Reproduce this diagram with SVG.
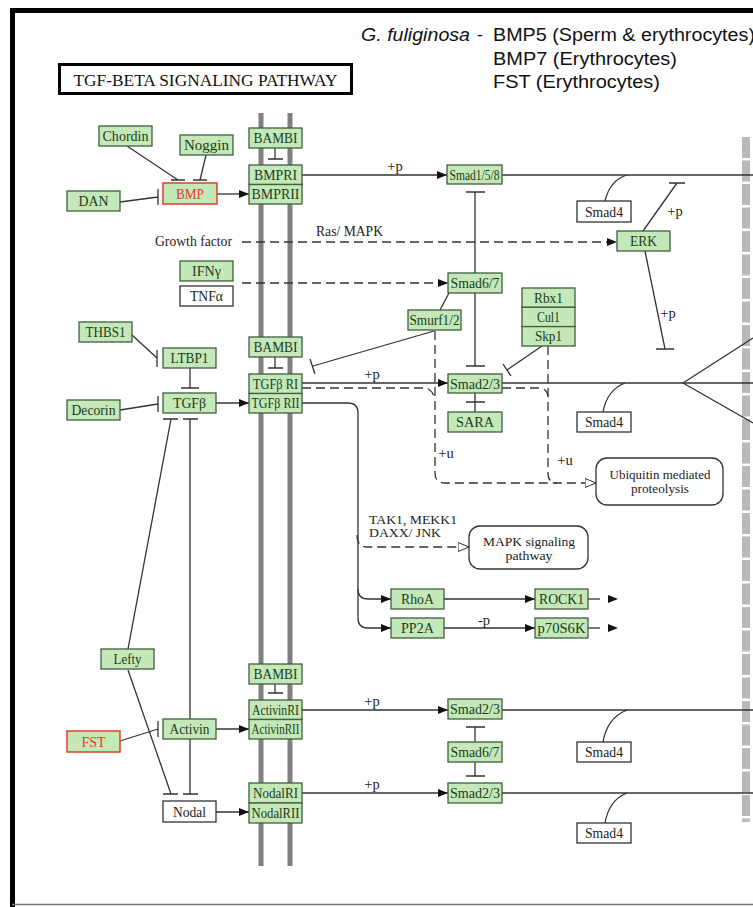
<svg xmlns="http://www.w3.org/2000/svg" width="753" height="907" viewBox="0 0 753 907">
<style>
.n rect{fill:#c4e8b8;stroke:#3f5f3f;stroke-width:1.3}
.w rect{fill:#fff;stroke:#333;stroke-width:1.3}
.r rect{fill:#c4e8b8;stroke:#e0402a;stroke-width:1.5}
.n text,.w text,.r text,.lbl{font-family:"Liberation Serif","Times New Roman",serif;font-size:14.5px;text-anchor:middle}
.n text{fill:#1b3d1b}
.w text{fill:#222}
.r text{fill:#e0402a}
.lbl{fill:#222}
.lt{text-anchor:start}
.w text.sm{font-size:12.5px}
.lbl .xs{font-size:11.5px}
.c path{fill:none;stroke:#333;stroke-width:1.3}
.c .d{stroke-dasharray:9 5}
.hdr{font-family:"Liberation Sans",Arial,sans-serif;font-size:17.5px;fill:#111}
.rr{fill:#fff;stroke:#333;stroke-width:1.3}
</style>
<defs>
<marker id="a" markerUnits="userSpaceOnUse" markerWidth="11" markerHeight="9" refX="10" refY="4" orient="auto"><path d="M0,0 L10,4 L0,8 z" fill="#111"/></marker>
<marker id="o" markerUnits="userSpaceOnUse" markerWidth="13" markerHeight="11" refX="11.5" refY="5" orient="auto"><path d="M0.5,0.5 L11.5,5 L0.5,9.5 z" fill="#fff" stroke="#333" stroke-width="1"/></marker>
</defs>
<rect width="753" height="907" fill="#fff"/>
<!-- frame -->
<path d="M12.5,8 V907" stroke="#000" stroke-width="5"/>
<path d="M10,10.5 H753" stroke="#000" stroke-width="5"/>
<path d="M12,904.5 H753" stroke="#777" stroke-width="1.5"/>
<!-- title -->
<g id="title">
<rect x="59.5" y="64.5" width="292" height="29" fill="#fff" stroke="#000" stroke-width="3"/>
<text x="205.5" y="86" font-family="Liberation Serif,'Times New Roman',serif" font-size="17" text-anchor="middle" textLength="264" lengthAdjust="spacingAndGlyphs" fill="#111">TGF-BETA SIGNALING PATHWAY</text>
</g>
<g id="header" class="hdr">
<text x="361" y="41" font-style="italic" textLength="109" lengthAdjust="spacingAndGlyphs">G. fuliginosa</text>
<text x="477" y="41">-</text>
<text x="493" y="41" textLength="262" lengthAdjust="spacingAndGlyphs">BMP5 (Sperm &amp; erythrocytes)</text>
<text x="493" y="65" textLength="184" lengthAdjust="spacingAndGlyphs">BMP7 (Erythrocytes)</text>
<text x="493" y="88" textLength="167" lengthAdjust="spacingAndGlyphs">FST (Erythrocytes)</text>
</g>
<!-- membrane -->
<g id="membrane">
<path d="M261,113 V866 M290,113 V866" stroke="#808080" stroke-width="5"/>
</g>
<!-- nucleus border -->
<g id="nucleus">
<path d="M746,137 V822" stroke="#b8b8b8" stroke-width="8" stroke-dasharray="21 2.5"/>
</g>
<!-- connectors -->
<g id="connectors" class="c">
<path d="M217,194 H249" marker-end="url(#a)"/>
<path d="M127,146 L178,180 M171,180 H185"/>
<path d="M206,155 L200,180 M193,180 H207"/>
<path d="M120,202 L158,197 M158,189 V205"/>
<path d="M275,148 V159 M268,159 H283"/>
<path d="M302,175 H447" marker-end="url(#a)"/>
<path d="M502,175 H753"/>
<path d="M605,201 Q610,180 627,175"/>
<path d="M475,273 V192 M466,192 H485"/>
<path class="d" d="M242,242 H617" marker-end="url(#a)"/>
<path class="d" d="M242,283 H448" marker-end="url(#a)"/>
<path d="M643,231 L677,183 M669,183 H685"/>
<path d="M645,251 L665,349 M656,349 H674"/>
<path d="M440,310 L449,293"/>
<path d="M434,331 L313,366 M310,359 L315,374"/>
<path d="M542,346 L507,370 M503,364 L511,376"/>
<path d="M475,293 V366 M466,366 H485"/>
<path d="M302,383 H448" marker-end="url(#a)"/>
<path d="M502,383 H753"/>
<path d="M603,412 Q607,390 625,383"/>
<path d="M683,383 L753,338 M683,383 L753,423"/>
<path d="M475,412 V393 M466,402 H485"/>
<path class="d" d="M302,388 H426 Q433,390 435,400"/>
<path class="d" d="M435,331 V473 Q435,483 445,483 H596" marker-end="url(#o)"/>
<path class="d" d="M502,388 H541 Q548,390 548,398"/>
<path class="d" d="M548,346 V473 Q548,483 557,483"/>
<path class="d" d="M357,535 Q357,547 367,547 H469" marker-end="url(#o)"/>
<path d="M302,403 H348 Q358,403 358,413 V618 Q358,628 368,628 H391" marker-end="url(#a)"/>
<path d="M358,589 Q358,599 368,599 H391" marker-end="url(#a)"/>
<path d="M444,599 H535" marker-end="url(#a)"/>
<path d="M444,628 H535" marker-end="url(#a)"/>
<path d="M588,599 H618" stroke-dasharray="12 30" marker-end="url(#a)"/>
<path d="M588,628 H618" stroke-dasharray="12 30" marker-end="url(#a)"/>
<path d="M132,335 L157,358 M157,350 V367"/>
<path d="M275,357 V368 M268,368 H283"/>
<path d="M190,368 V388 M181,388 H199"/>
<path d="M120,410 L158,404 M158,396 V412"/>
<path d="M216,403 H249" marker-end="url(#a)"/>
<path d="M128,649 L171,419 M163,419 H178"/>
<path d="M190,719 V419 M183,419 H198"/>
<path d="M128,670 L171,794 M163,794 H178"/>
<path d="M190,739 V794 M183,794 H198"/>
<path d="M120,741 L158,729 M158,721 V737"/>
<path d="M216,729 H249" marker-end="url(#a)"/>
<path d="M216,812 H249" marker-end="url(#a)"/>
<path d="M275,684 V693 M268,693 H283"/>
<path d="M302,710 H448" marker-end="url(#a)"/>
<path d="M502,710 H753"/>
<path d="M475,742 V727 M466,727 H485"/>
<path d="M475,762 V776 M466,776 H485"/>
<path d="M302,793 H448" marker-end="url(#a)"/>
<path d="M502,793 H753"/>
<path d="M603,742 Q607,718 627,710"/>
<path d="M605,823 Q609,800 627,793"/>
</g>
<!-- edge labels -->
<g id="edge-labels" class="lbl">
<text x="395" y="171">+p</text>
<text x="372" y="379">+p</text>
<text x="372" y="706">+p</text>
<text x="372" y="789">+p</text>
<text x="675" y="216">+p</text>
<text x="668" y="318">+p</text>
<text x="484" y="625">-p</text>
<text x="446" y="458">+u</text>
<text x="565" y="465">+u</text>
<text class="lt" x="155" y="246" textLength="77" lengthAdjust="spacingAndGlyphs">Growth factor</text>
<text class="lt" x="316" y="236" textLength="67" lengthAdjust="spacingAndGlyphs">Ras/ MAPK</text>
<text class="lt xs" x="369" y="524" textLength="88" lengthAdjust="spacingAndGlyphs">TAK1, MEKK1</text>
<text class="lt xs" x="369" y="537" textLength="72" lengthAdjust="spacingAndGlyphs">DAXX/ JNK</text>
</g>
<!-- nodes -->
<g id="Chordin" class="n"><rect x="99" y="126" width="53" height="20"/><text x="125.5" y="141" textLength="46" lengthAdjust="spacingAndGlyphs">Chordin</text></g>
<g id="Noggin" class="n"><rect x="180" y="135" width="53" height="20"/><text x="206.5" y="150" textLength="45" lengthAdjust="spacingAndGlyphs">Noggin</text></g>
<g id="BAMBI1" class="n"><rect x="249" y="128" width="53" height="20"/><text x="275.5" y="143" textLength="44" lengthAdjust="spacingAndGlyphs">BAMBI</text></g>
<g id="BMPRI" class="n"><rect x="249" y="165" width="53" height="19.5"/><text x="275.5" y="180" textLength="43" lengthAdjust="spacingAndGlyphs">BMPRI</text></g>
<g id="BMPRII" class="n"><rect x="249" y="184.5" width="53" height="19.5"/><text x="275.5" y="199" textLength="48" lengthAdjust="spacingAndGlyphs">BMPRII</text></g>
<g id="BMP" class="r"><rect x="163" y="183" width="54" height="21"/><text x="190" y="198.5" textLength="28" lengthAdjust="spacingAndGlyphs">BMP</text></g>
<g id="DAN" class="n"><rect x="67" y="191" width="53" height="20"/><text x="93.5" y="206" textLength="30" lengthAdjust="spacingAndGlyphs">DAN</text></g>
<g id="Smad158" class="n"><rect x="447" y="165" width="55" height="19"/><text x="474.5" y="179.5" textLength="50" lengthAdjust="spacingAndGlyphs">Smad1/5/8</text></g>
<g id="Smad4a" class="w"><rect x="577" y="201" width="54" height="21"/><text x="604" y="216.5" textLength="38" lengthAdjust="spacingAndGlyphs">Smad4</text></g>
<g id="ERK" class="n"><rect x="617" y="231" width="53" height="20"/><text x="643.5" y="246" textLength="27" lengthAdjust="spacingAndGlyphs">ERK</text></g>
<g id="IFNg" class="n"><rect x="180" y="261" width="53" height="20"/><text x="206.5" y="276" textLength="29" lengthAdjust="spacingAndGlyphs">IFNγ</text></g>
<g id="TNFa" class="w"><rect x="180" y="286" width="53" height="20"/><text x="206.5" y="301" textLength="33" lengthAdjust="spacingAndGlyphs">TNFα</text></g>
<g id="Smad67a" class="n"><rect x="448" y="273" width="54" height="20"/><text x="475" y="288" textLength="49" lengthAdjust="spacingAndGlyphs">Smad6/7</text></g>
<g id="Smurf12" class="n"><rect x="408" y="310" width="53" height="20"/><text x="434.5" y="325" textLength="50" lengthAdjust="spacingAndGlyphs">Smurf1/2</text></g>
<g id="RbxCulSkp" class="n"><rect x="522" y="288" width="53" height="19.3"/><rect x="522" y="307.3" width="53" height="19.3"/><rect x="522" y="326.6" width="53" height="19.4"/><text x="548.5" y="302.5" textLength="29" lengthAdjust="spacingAndGlyphs">Rbx1</text><text x="548.5" y="322" textLength="23" lengthAdjust="spacingAndGlyphs">Cul1</text><text x="548.5" y="341" textLength="27" lengthAdjust="spacingAndGlyphs">Skp1</text></g>
<g id="Smad23a" class="n"><rect x="448" y="374" width="54" height="19"/><text x="475" y="388.5" textLength="50" lengthAdjust="spacingAndGlyphs">Smad2/3</text></g>
<g id="SARA" class="n"><rect x="448" y="412" width="54" height="20"/><text x="475" y="427" textLength="38" lengthAdjust="spacingAndGlyphs">SARA</text></g>
<g id="Smad4b" class="w"><rect x="577" y="412" width="54" height="20"/><text x="604" y="427" textLength="38" lengthAdjust="spacingAndGlyphs">Smad4</text></g>
<g id="Ubiquitin" class="w"><rect class="rr" x="596" y="458" width="127" height="47" rx="11"/><text class="sm" x="660" y="479" textLength="101" lengthAdjust="spacingAndGlyphs">Ubiquitin mediated</text><text class="sm" x="660" y="493" textLength="58" lengthAdjust="spacingAndGlyphs">proteolysis</text></g>
<g id="MAPK" class="w"><rect class="rr" x="469" y="526" width="119" height="43" rx="11"/><text class="sm" x="529" y="546" textLength="92" lengthAdjust="spacingAndGlyphs">MAPK signaling</text><text class="sm" x="529" y="560" textLength="47" lengthAdjust="spacingAndGlyphs">pathway</text></g>
<g id="THBS1" class="n"><rect x="79" y="322" width="53" height="20"/><text x="105.5" y="337" textLength="40" lengthAdjust="spacingAndGlyphs">THBS1</text></g>
<g id="LTBP1" class="n"><rect x="163" y="348" width="53" height="20"/><text x="189.5" y="363" textLength="38" lengthAdjust="spacingAndGlyphs">LTBP1</text></g>
<g id="BAMBI2" class="n"><rect x="249" y="337" width="53" height="20"/><text x="275.5" y="352" textLength="44" lengthAdjust="spacingAndGlyphs">BAMBI</text></g>
<g id="TGFbRI" class="n"><rect x="249" y="374" width="53" height="19.5"/><text x="275.5" y="388.5" textLength="45" lengthAdjust="spacingAndGlyphs">TGFβ RI</text></g>
<g id="TGFbRII" class="n"><rect x="249" y="393.5" width="53" height="19.5"/><text x="275.5" y="408" textLength="48" lengthAdjust="spacingAndGlyphs">TGFβ RII</text></g>
<g id="TGFb" class="n"><rect x="163" y="393" width="53" height="20"/><text x="189.5" y="408" textLength="33" lengthAdjust="spacingAndGlyphs">TGFβ</text></g>
<g id="Decorin" class="n"><rect x="67" y="400" width="53" height="20"/><text x="93.5" y="415" textLength="44" lengthAdjust="spacingAndGlyphs">Decorin</text></g>
<g id="RhoA" class="n"><rect x="391" y="589" width="53" height="20"/><text x="417.5" y="604" textLength="33" lengthAdjust="spacingAndGlyphs">RhoA</text></g>
<g id="ROCK1" class="n"><rect x="535" y="589" width="53" height="20"/><text x="561.5" y="604" textLength="45" lengthAdjust="spacingAndGlyphs">ROCK1</text></g>
<g id="PP2A" class="n"><rect x="391" y="618" width="53" height="20"/><text x="417.5" y="633" textLength="33" lengthAdjust="spacingAndGlyphs">PP2A</text></g>
<g id="p70S6K" class="n"><rect x="535" y="618" width="53" height="20"/><text x="561.5" y="633" textLength="48" lengthAdjust="spacingAndGlyphs">p70S6K</text></g>
<g id="Lefty" class="n"><rect x="101" y="649" width="53" height="20"/><text x="127.5" y="664" textLength="28" lengthAdjust="spacingAndGlyphs">Lefty</text></g>
<g id="BAMBI3" class="n"><rect x="249" y="664" width="53" height="20"/><text x="275.5" y="679" textLength="44" lengthAdjust="spacingAndGlyphs">BAMBI</text></g>
<g id="ActivinRI" class="n"><rect x="249" y="700" width="53" height="19.5"/><text x="275.5" y="714.5" textLength="47" lengthAdjust="spacingAndGlyphs">ActivinRI</text></g>
<g id="ActivinRII" class="n"><rect x="249" y="719.5" width="53" height="19.5"/><text x="275.5" y="734" textLength="48" lengthAdjust="spacingAndGlyphs">ActivinRII</text></g>
<g id="Activin" class="n"><rect x="163" y="719" width="53" height="20"/><text x="189.5" y="734" textLength="40" lengthAdjust="spacingAndGlyphs">Activin</text></g>
<g id="FST" class="r"><rect x="67" y="731" width="53" height="21"/><text x="93.5" y="746.5" textLength="24" lengthAdjust="spacingAndGlyphs">FST</text></g>
<g id="Nodal" class="w"><rect x="163" y="801" width="53" height="21"/><text x="189.5" y="816.5" textLength="33" lengthAdjust="spacingAndGlyphs">Nodal</text></g>
<g id="NodalRI" class="n"><rect x="249" y="783" width="53" height="20"/><text x="275.5" y="798" textLength="45" lengthAdjust="spacingAndGlyphs">NodalRI</text></g>
<g id="NodalRII" class="n"><rect x="249" y="803" width="53" height="20"/><text x="275.5" y="818" textLength="48" lengthAdjust="spacingAndGlyphs">NodalRII</text></g>
<g id="Smad23b" class="n"><rect x="448" y="699" width="54" height="20"/><text x="475" y="714" textLength="50" lengthAdjust="spacingAndGlyphs">Smad2/3</text></g>
<g id="Smad67b" class="n"><rect x="448" y="742" width="54" height="20"/><text x="475" y="757" textLength="49" lengthAdjust="spacingAndGlyphs">Smad6/7</text></g>
<g id="Smad23c" class="n"><rect x="448" y="783" width="54" height="20"/><text x="475" y="798" textLength="50" lengthAdjust="spacingAndGlyphs">Smad2/3</text></g>
<g id="Smad4c" class="w"><rect x="577" y="742" width="54" height="20"/><text x="604" y="757" textLength="38" lengthAdjust="spacingAndGlyphs">Smad4</text></g>
<g id="Smad4d" class="w"><rect x="577" y="823" width="54" height="20"/><text x="604" y="838" textLength="38" lengthAdjust="spacingAndGlyphs">Smad4</text></g>
</svg>
